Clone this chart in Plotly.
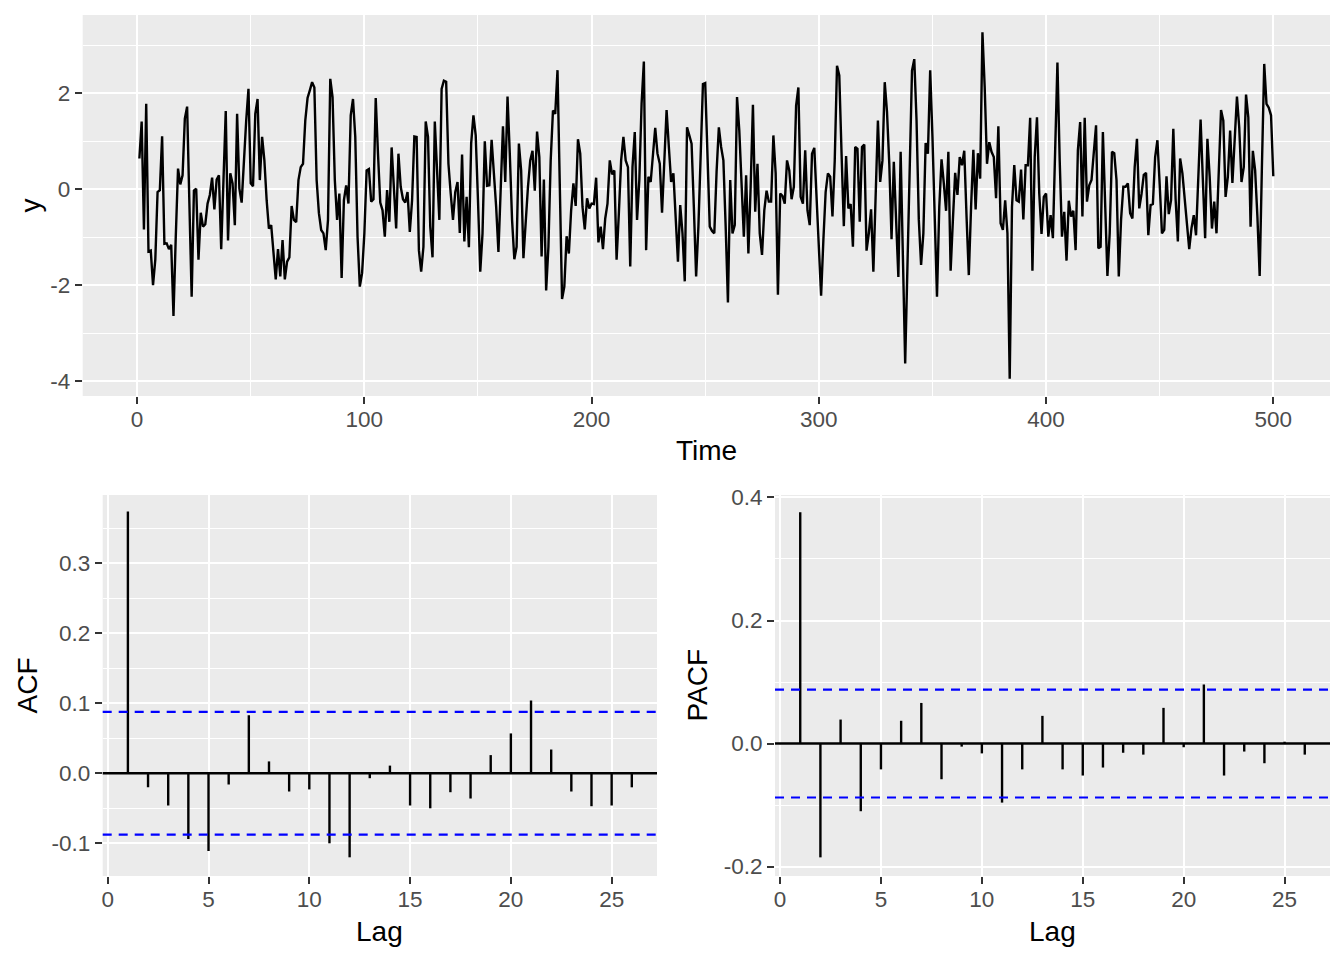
import plotly.graph_objects as go

# ---------------- data ----------------
y_values = [
    0.64, 1.41, -0.84, 1.78, -1.3, -1.28, -2.0, -1.47, -0.06, -0.02,
    1.1, -1.14, -1.13, -1.25, -1.16, -2.64, -1.0, 0.43, 0.1, 0.29,
    1.47, 1.72, -0.3, -2.24, -0.03, 0.01, -1.47, -0.49, -0.78, -0.73,
    -0.3, -0.12, 0.24, -0.42, 0.2, 0.29, -1.25, 0.2, 1.63, -1.07,
    0.33, 0.12, -0.75, 1.57, 0.01, -0.28, 0.74, 1.43, 2.09, 0.12,
    0.06, 1.57, 1.88, 0.19, 1.09, 0.6, -0.23, -0.82, -0.75, -1.4,
    -1.88, -1.25, -1.82, -1.06, -1.88, -1.51, -1.42, -0.35, -0.64, -0.69,
    0.19, 0.46, 0.53, 1.43, 1.9, 2.06, 2.23, 2.12, 0.19, -0.5,
    -0.85, -0.92, -1.27, -0.64, 2.3, 1.92, 0.19, -0.64, -0.09, -1.85,
    -0.23, 0.08, -0.3, 1.54, 1.88, 1.09, -0.99, -2.03, -1.75, -0.92,
    0.39, 0.42, -0.26, -0.21, 1.9, 0.74, -0.28, -0.44, -0.99, -0.02,
    -0.68, 0.87, 0.05, -0.82, 0.74, 0.05, -0.21, -0.28, -0.06, -0.89,
    -0.23, 1.1, 1.09, -1.27, -1.72, -1.2, 1.41, 1.09, -0.78, -1.42,
    1.41, 0.33, -0.64, 2.09, 2.26, 2.24, 0.53, -0.09, -0.64, -0.06,
    0.15, -0.91, 0.72, -1.09, -0.16, -1.21, 0.95, 1.54, 1.12, -0.23,
    -1.72, -0.92, 1.0, 0.07, 0.08, 1.03, 0.33, -0.37, -1.31, -0.09,
    1.31, 0.15, 1.93, 0.74, -0.64, -1.46, -1.2, 0.95, 0.39, -1.44,
    -0.64, 0.05, 0.6, 0.8, -0.03, 1.2, 0.67, -1.4, 0.2, -2.11,
    -1.2, 0.6, 1.64, 1.57, 2.48, 0.0, -2.29, -2.03, -0.98, -1.34,
    -0.44, 0.12, -0.35, 1.04, 0.74, -0.37, -0.84, -0.19, -0.4, -0.3,
    -0.31, 0.24, -1.11, -0.78, -1.25, -0.61, -0.3, 0.6, 0.31, 0.39,
    -1.47, -0.5, 0.6, 1.09, 0.6, 0.46, -1.61, 0.46, 1.19, -0.64,
    0.19, 1.78, 2.66, -1.27, 0.26, 0.15, 0.74, 1.28, 0.74, 0.53,
    -0.49, 0.74, 1.65, 0.88, 0.15, 0.33, -0.57, -1.51, -0.33, -0.92,
    -1.92, 1.29, 1.12, 0.95, -0.37, -1.82, -0.78, 0.95, 2.19, 2.21,
    0.5, -0.78, -0.87, -0.92, 0.36, 1.29, 0.88, 0.6, -0.78, -2.36,
    0.19, -0.92, -0.75, 1.92, 1.22, 0.12, -0.99, 0.29, -1.34, 0.05,
    1.76, -0.47, 0.53, -0.92, -1.37, -0.44, -0.03, -0.26, -0.26, 1.12,
    0.33, -2.2, -0.09, -0.14, -0.3, 0.6, 0.39, -0.21, 0.05, 1.74,
    2.12, -0.16, -0.3, 0.81, -0.44, -0.75, 0.74, 0.86, -0.09, -0.99,
    -2.22, -1.06, -0.06, 0.33, 0.26, -0.57, 0.6, 2.57, 2.37, 0.74,
    -0.77, 0.69, -0.4, -0.31, -1.2, 0.88, 0.84, -0.68, 0.88, 0.93,
    -1.28, -0.92, -0.42, -1.72, 0.05, 1.43, 0.15, 0.6, 2.23, 1.61,
    0.53, -1.04, 0.57, -0.64, -1.83, 0.78, -1.34, -3.63, -1.6, 0.4,
    2.47, 2.71, 1.43, -0.64, -1.58, -0.92, 0.96, 0.74, 2.48, 1.09,
    -0.78, -2.24, -0.37, 0.62, 0.12, -0.45, 0.78, -1.7, -0.64, 0.34,
    -0.12, 0.67, 0.5, 0.8, -0.57, -1.79, -0.37, 0.82, -0.42, 0.75,
    0.22, 3.27, 2.12, 0.53, 0.98, 0.78, 0.67, -0.19, 1.31, -0.71,
    -0.85, -0.23, -0.92, -3.95, -0.37, 0.5, -0.23, -0.26, 0.41, -0.63,
    0.5, 0.5, 1.49, -1.7, 0.67, 1.5, -0.09, -0.93, -0.16, -0.09,
    -0.99, -0.54, -1.02, 0.74, 2.64, 0.6, -0.99, -0.47, -1.49, -0.24,
    -0.57, -0.45, -1.27, 0.81, 1.4, -0.57, 1.49, -0.26, 0.08, 0.19,
    0.74, 1.33, -1.23, -1.2, 1.19, -0.3, -1.81, -0.92, 0.78, 0.75,
    0.19, -1.82, -0.64, 0.05, 0.05, 0.12, -0.5, -0.61, 0.46, 1.05,
    -0.4, -0.1, 0.3, 0.34, -0.96, -0.33, -0.31, 0.67, 1.02, 0.1,
    -0.92, -0.85, 0.27, -0.52, -0.23, 1.26, -0.2, -1.09, 0.64, 0.33,
    -0.23, -0.78, -1.25, -0.81, -0.54, -0.96, 0.46, 1.45, 0.19, -1.02,
    1.05, 0.26, -0.82, -0.26, -0.92, 0.39, 1.65, 1.43, -0.16, 0.26,
    1.22, 0.13, 1.16, 1.93, 1.29, 0.15, 0.46, 1.97, 1.5, -0.78,
    0.8, 0.39, -0.57, -1.81, 0.5, 2.61, 1.78, 1.7, 1.54, 0.27,
]
time_index = list(range(1, len(y_values) + 1))

lags = list(range(1, 27))
acf_values = [
    0.374, -0.020, -0.046, -0.094, -0.111, -0.016, 0.083, 0.017, -0.026, -0.023,
    -0.100, -0.120, -0.007, 0.011, -0.046, -0.050, -0.027, -0.036, 0.026, 0.057,
    0.104, 0.034, -0.026, -0.047, -0.046, -0.020,
]
pacf_values = [
    0.376, -0.185, 0.039, -0.110, -0.042, 0.037, 0.066, -0.058, -0.005, -0.016,
    -0.096, -0.042, 0.045, -0.042, -0.052, -0.039, -0.015, -0.018, 0.058, -0.006,
    0.096, -0.052, -0.013, -0.032, 0.003, -0.018,
]
conf_limit = 0.0877

ts_xticks = [0, 100, 200, 300, 400, 500]
ts_xticklabels = ["0", "100", "200", "300", "400", "500"]
ts_xminor = [50, 150, 250, 350, 450]
ts_yticks = [-4, -2, 0, 2]
ts_yticklabels = ["-4", "-2", "0", "2"]
ts_yminor = [-3, -1, 1, 3]

lag_ticks = [0, 5, 10, 15, 20, 25]
lag_ticklabels = ["0", "5", "10", "15", "20", "25"]
acf_yticks = [-0.1, 0.0, 0.1, 0.2, 0.3]
acf_yticklabels = ["-0.1", "0.0", "0.1", "0.2", "0.3"]
acf_yminor = [-0.05, 0.05, 0.15, 0.25, 0.35]
pacf_yticks = [-0.2, 0.0, 0.2, 0.4]
pacf_yticklabels = ["-0.2", "0.0", "0.2", "0.4"]
pacf_yminor = [-0.1, 0.1, 0.3]

# ---------------- style ----------------
PANEL = "#EBEBEB"
TICKFONT = dict(family="Liberation Sans, Arial, sans-serif", size=22.5, color="#4D4D4D")
TITLEFONT = dict(family="Liberation Sans, Arial, sans-serif", size=28, color="black")
W, H = 1344, 960


def segs(xs, vals):
    sx, sy = [], []
    for x, v in zip(xs, vals):
        sx += [x, x, None]
        sy += [0, v, None]
    return sx, sy


fig = go.Figure()

fig.add_trace(go.Scatter(x=time_index, y=y_values, mode="lines",
                         line=dict(color="black", width=2.4), xaxis="x", yaxis="y",
                         hoverinfo="skip"))

ax, ay = segs(lags, acf_values)
fig.add_trace(go.Scatter(x=ax, y=ay, mode="lines", line=dict(color="black", width=2.4),
                         xaxis="x2", yaxis="y2", hoverinfo="skip"))
px_, py_ = segs(lags, pacf_values)
fig.add_trace(go.Scatter(x=px_, y=py_, mode="lines", line=dict(color="black", width=2.4),
                         xaxis="x3", yaxis="y3", hoverinfo="skip"))


def axis_common(tickvals, ticktext, minorvals, rng, domain, anchor, standoff):
    d = dict(
        range=rng, domain=domain, anchor=anchor, automargin=False,
        tickmode="array", tickvals=tickvals, ticktext=ticktext,
        showgrid=True, gridcolor="white", gridwidth=2.2,
        zeroline=False, showline=False,
        ticks="outside", ticklen=7, tickwidth=2.2, tickcolor="#333333",
        tickfont=TICKFONT, fixedrange=True, ticklabelstandoff=standoff,
    )
    if minorvals:
        d["minor"] = dict(tickmode="array", tickvals=minorvals, showgrid=True,
                          gridcolor="white", gridwidth=1.1, ticks="")
    return d


def fx(px):
    return px / W


def fy(py):
    return 1 - py / H


top_x = [fx(82.7), fx(1330)]
top_y = [fy(396), fy(15)]
acf_x = [fx(102.7), fx(657)]
pacf_x = [fx(775), fx(1330)]
bot_y = [fy(876), fy(495)]

fig.update_layout(
    template="none",
    width=W, height=H,
    margin=dict(l=0, r=0, t=0, b=0, pad=0),
    paper_bgcolor="white",
    plot_bgcolor=PANEL,
    showlegend=False,
    xaxis=axis_common(ts_xticks, ts_xticklabels, ts_xminor, [-23.95, 524.95], top_x, "y", -4),
    yaxis=axis_common(ts_yticks, ts_yticklabels, ts_yminor, [-4.31, 3.63], top_y, "x", 0),
    xaxis2=axis_common(lag_ticks, lag_ticklabels, None, [-0.25, 27.25], acf_x, "y2", -4),
    yaxis2=axis_common(acf_yticks, acf_yticklabels, acf_yminor, [-0.1467, 0.3976], bot_y, "x2", 0),
    xaxis3=axis_common(lag_ticks, lag_ticklabels, None, [-0.25, 27.25], pacf_x, "y3", -4),
    yaxis3=axis_common(pacf_yticks, pacf_yticklabels, pacf_yminor, [-0.2153, 0.404], bot_y, "x3", 0),
)

shapes = []
for xr, yr in (("x2", "y2"), ("x3", "y3")):
    shapes.append(dict(type="line", xref=f"{xr} domain", yref=yr, x0=0, x1=1, y0=0, y1=0,
                       line=dict(color="black", width=2.4), layer="above"))
    for c in (conf_limit, -conf_limit):
        shapes.append(dict(type="line", xref=f"{xr} domain", yref=yr, x0=0, x1=1, y0=c, y1=c,
                           line=dict(color="#0000FF", width=2.2, dash="9px,7px"), layer="above"))
fig.update_layout(shapes=shapes)

ann = [
    dict(text="Time", xref="x domain", yref="paper", x=0.5, y=fy(450), font=TITLEFONT),
    dict(text="y", xref="paper", yref="y domain", x=fx(30), y=0.5, textangle=-90, font=TITLEFONT),
    dict(text="Lag", xref="x2 domain", yref="paper", x=0.5, y=fy(931), font=TITLEFONT),
    dict(text="ACF", xref="paper", yref="y2 domain", x=fx(27), y=0.5, textangle=-90, font=TITLEFONT),
    dict(text="Lag", xref="x3 domain", yref="paper", x=0.5, y=fy(931), font=TITLEFONT),
    dict(text="PACF", xref="paper", yref="y3 domain", x=fx(697), y=0.5, textangle=-90, font=TITLEFONT),
]
for a in ann:
    a.update(showarrow=False, xanchor="center", yanchor="middle")
fig.update_layout(annotations=ann)

fig.write_html("out.html", config={"displayModeBar": False},
               post_script="document.body.style.margin='0';document.body.style.padding='0';")
